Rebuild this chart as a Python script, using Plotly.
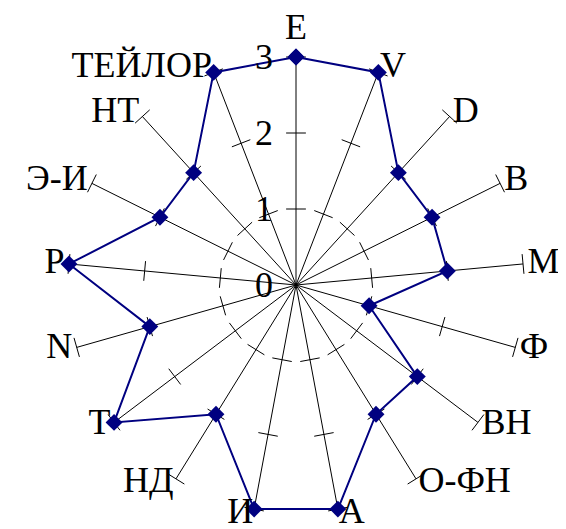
import math
import plotly.graph_objects as go

categories = ["E", "V", "D", "B", "M", "Ф", "ВН", "О-ФН", "А", "И",
              "НД", "Т", "N", "Р", "Э-И", "НТ", "ТЕЙЛОР"]
values = [3, 3, 2, 2, 2, 1, 2, 2, 3, 3, 2, 3, 2, 3, 2, 2, 3]
radial_ticks = [0, 1, 2, 3]

n = len(categories)
angles = [i * 360 / n for i in range(n)]
rmax = radial_ticks[-1]
rview = 3.25  # extra room so the category labels are not dropped

NAVY = "#000080"
FONT = "Liberation Serif"
FS = 36

fig = go.Figure()

# spokes 0..3
sr, st = [], []
for a in angles:
    sr += [0, rmax, None]
    st += [a, a, None]
fig.add_trace(go.Scatterpolar(r=sr, theta=st, mode="lines",
                              line=dict(color="black", width=1),
                              hoverinfo="skip", showlegend=False))

# short tick marks across every spoke at 1, 2, 3
h = 0.13
tr, tt = [], []
for a in angles:
    for r in radial_ticks[1:]:
        rr = math.sqrt(r * r + h * h)
        d = math.degrees(math.atan(h / r))
        tr += [rr, rr, None]
        tt += [a - d, a + d, None]
fig.add_trace(go.Scatterpolar(r=tr, theta=tt, mode="lines",
                              line=dict(color="black", width=1),
                              cliponaxis=False, hoverinfo="skip",
                              showlegend=False))

fig.add_trace(go.Scatterpolar(
    r=values + values[:1], theta=angles + angles[:1],
    mode="lines+markers",
    line=dict(color=NAVY, width=2),
    marker=dict(symbol="diamond", size=13, color=NAVY),
    cliponaxis=False, showlegend=False))

# category labels beside the spoke ends
lab_r, lab_pos = [], []
for a in angles:
    if a == 0:
        lab_r.append(rmax * 1.04)
        lab_pos.append("top center")
    elif a < 180:
        lab_r.append(rmax * 1.02)
        lab_pos.append("middle right")
    else:
        lab_r.append(rmax * 1.02)
        lab_pos.append("middle left")
fig.add_trace(go.Scatterpolar(
    r=lab_r, theta=angles, mode="text", text=categories,
    textposition=lab_pos,
    textfont=dict(family=FONT, size=FS, color="black"),
    cliponaxis=False, hoverinfo="skip", showlegend=False))

# page body has an 8px margin, so positions below are shifted by it
fig.update_layout(
    width=566, height=529,
    margin=dict(l=0, r=0, t=0, b=0),
    paper_bgcolor="white",
    font=dict(family=FONT, size=FS, color="black"),
    polar=dict(
        domain=dict(x=[41 / 566, 535 / 566], y=[5 / 529, 499 / 529]),
        bgcolor="white",
        angularaxis=dict(
            rotation=90, direction="clockwise",
            tickmode="array", tickvals=angles, showticklabels=False,
            showgrid=False, showline=False, ticks="",
        ),
        radialaxis=dict(
            range=[0, rview], angle=90, side="counterclockwise", tickangle=90,
            tickmode="array", tickvals=radial_ticks,
            showgrid=False, showline=False,
            ticks="outside", ticklen=10, tickcolor="rgba(0,0,0,0)",
            tickfont=dict(family=FONT, size=FS, color="black"),
        ),
    ),
)

fig.write_html("out.html")
